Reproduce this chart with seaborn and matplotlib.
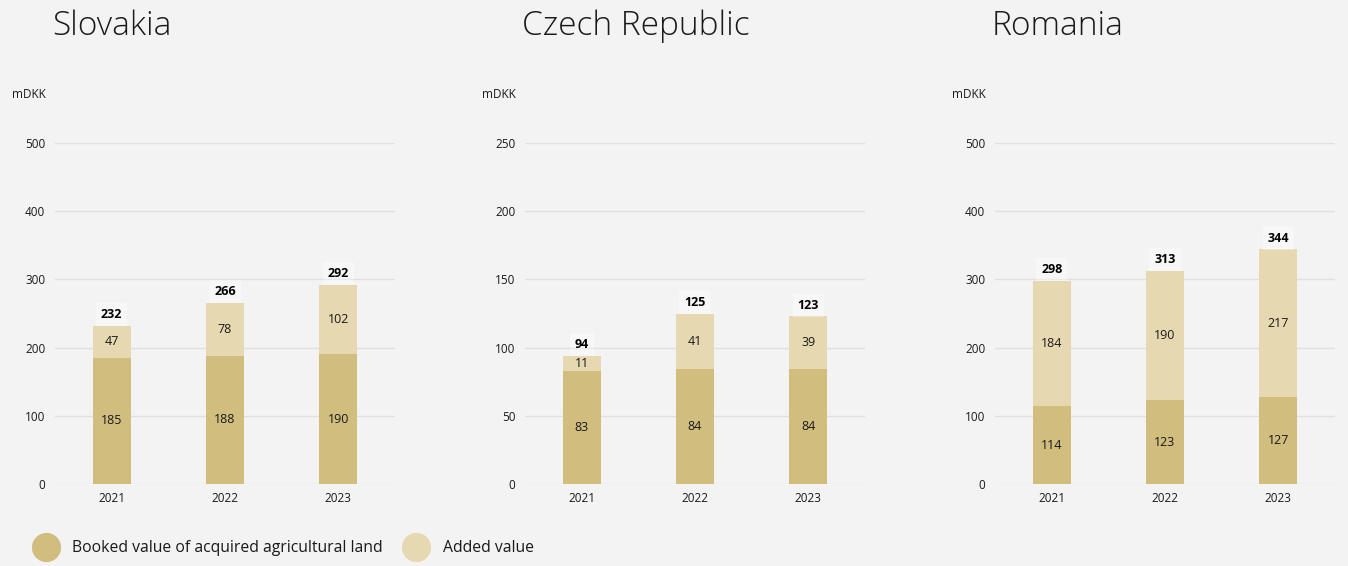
import matplotlib
matplotlib.use("Agg")
import matplotlib.pyplot as plt
from matplotlib.lines import Line2D
import seaborn as sns
import pandas as pd

# Data (mDKK)
years = ["2021", "2022", "2023"]
countries = ["Slovakia", "Czech Republic", "Romania"]
booked_slovakia = [185, 188, 190]
added_slovakia = [47, 78, 102]
booked_czech = [83, 84, 84]
added_czech = [11, 41, 39]
booked_romania = [114, 123, 127]
added_romania = [184, 190, 217]
y_limits = [500, 250, 500]
y_steps = [100, 50, 100]
unit_label = "mDKK"
legend_labels = ["Booked value of acquired agricultural land", "Added value"]

DARK = "#d1bd7e"
LIGHT = "#e6d8b0"
BG = "#f3f3f3"
GRID = "#e0e0e0"

sns.set_theme(style="white")
plt.rcParams["font.family"] = ["Open Sans", "DejaVu Sans"]

fig = plt.figure(figsize=(13.48, 5.66), dpi=100, facecolor=BG)

series = [
    (booked_slovakia, added_slovakia),
    (booked_czech, added_czech),
    (booked_romania, added_romania),
]
lefts = [55 / 1348, 525 / 1348, 995 / 1348]
W, H = 340 / 1348, 341 / 566
BOTTOM = 1 - 484 / 566

for i, (name, (booked, added)) in enumerate(zip(countries, series)):
    ax = fig.add_axes([lefts[i], BOTTOM, W, H])
    ax.set_facecolor(BG)
    totals = [b + a for b, a in zip(booked, added)]
    df = pd.DataFrame({"year": years, "booked": booked, "added": added, "total": totals})

    sns.barplot(data=df, x="year", y="total", color=LIGHT, width=0.335,
                saturation=1, linewidth=0, ax=ax, zorder=3)
    sns.barplot(data=df, x="year", y="booked", color=DARK, width=0.335,
                saturation=1, linewidth=0, ax=ax, zorder=4)

    for xi, (b, a, t) in enumerate(zip(booked, added, totals)):
        ax.text(xi, b / 2, f"{b}", ha="center", va="center", fontsize=9,
                color="#1a1a1a", zorder=5)
        ax.text(xi, b + a / 2, f"{a}", ha="center", va="center", fontsize=9,
                color="#1a1a1a", zorder=5)
        ax.annotate(f"{t}", (xi, t), xytext=(0, 8), textcoords="offset points",
                    ha="center", va="center", fontsize=9, fontweight="bold",
                    color="#000000", zorder=6,
                    bbox=dict(boxstyle="square,pad=0.4", fc="white",
                              ec="none", alpha=0.35))

    ymax = y_limits[i]
    ax.set_ylim(0, ymax)
    ax.set_xlim(-0.5, 2.5)
    ax.set_yticks(range(0, ymax + 1, y_steps[i]))
    ax.yaxis.grid(True, color=GRID, linewidth=1, zorder=0)
    ax.set_axisbelow(True)
    for s in ax.spines.values():
        s.set_visible(False)
    ax.tick_params(axis="both", length=0, labelsize=8.5, colors="#1a1a1a")
    ax.tick_params(axis="y", pad=7)
    ax.tick_params(axis="x", pad=6)
    ax.set_xlabel("")
    ax.set_ylabel("")

    fig.text(lefts[i] - 9 / 1348, 1 - 94 / 566, unit_label, ha="right",
             va="center", fontsize=8.5, color="#1a1a1a")
    fig.text(lefts[i] - 3 / 1348, 1 - 26 / 566, name, ha="left", va="center",
             fontsize=24, fontweight="light", color="#1a1a1a")

handles = [
    Line2D([], [], marker="o", linestyle="none", markersize=21,
           markerfacecolor=DARK, markeredgecolor="none"),
    Line2D([], [], marker="o", linestyle="none", markersize=21,
           markerfacecolor=LIGHT, markeredgecolor="none"),
]
fig.legend(handles, legend_labels, loc="center left",
           bbox_to_anchor=(16 / 1348, 1 - 548 / 566), ncol=2, frameon=False,
           fontsize=11.3, handletextpad=0.7, columnspacing=1.1,
           labelcolor="#1a1a1a")

fig.savefig("out.png", dpi=100, facecolor=BG)
